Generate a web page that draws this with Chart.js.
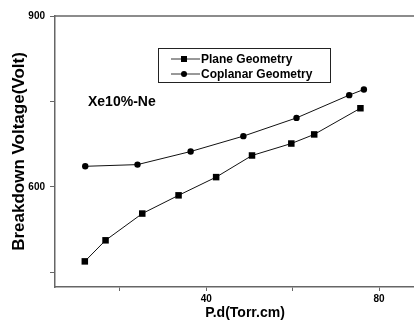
<!DOCTYPE html>
<html>
<head>
<meta charset="utf-8">
<title>Breakdown voltage vs P.d</title>
<script src="https://cdn.jsdelivr.net/npm/chart.js@4.4.0/dist/chart.umd.min.js"></script>
<style>
    html, body { margin: 0; padding: 0; background: #fff; overflow: hidden; }
    #wrap { width: 414px; height: 320px; position: relative; }
    #wrap canvas { display: block; }
</style>
</head>
<body>
<div id="wrap"><canvas id="pdChart"></canvas></div>
<script>
// Data
const planePd = [11.9, 16.7, 25.2, 33.6, 42.3, 50.6, 59.7, 65.0, 75.7];
const planeVolt = [469, 506, 553, 585, 617, 655, 676, 692, 738];
const coplanarPd = [12.0, 24.1, 36.4, 48.6, 60.9, 73.1, 76.5];
const coplanarVolt = [636, 639, 662, 689, 721, 761, 771];

const xTicks = [20, 40, 60, 80];
const xLabels = [40, 80];
const yTicks = [450, 600, 750, 900];
const yLabels = [600, 900];

const seriesNames = ['Plane Geometry', 'Coplanar Geometry'];
const gasLabel = 'Xe10%-Ne';
const xTitle = 'P.d(Torr.cm)';

const FONT = "'Liberation Sans', Arial, sans-serif";
const AXIS_COLOR = '#666';

function toPoints(xs, ys) {
    return xs.map((x, i) => ({ x: x, y: ys[i] }));
}

// Top frame line, legend box, gas label and x title
// (the original frame is cut off on the right, so the x title sits off-centre)
const overlayPlugin = {
    id: 'overlay',
    beforeDatasetsDraw(chart) {
        const ctx = chart.ctx;
        const area = chart.chartArea;
        ctx.save();
        ctx.strokeStyle = AXIS_COLOR;
        ctx.lineWidth = 1.5;
        ctx.beginPath();
        ctx.moveTo(area.left, area.top);
        ctx.lineTo(area.right, area.top);
        ctx.stroke();
        ctx.restore();
    },
    afterDraw(chart) {
        const ctx = chart.ctx;
        ctx.save();

        ctx.fillStyle = '#000';
        ctx.textBaseline = 'middle';
        ctx.textAlign = 'center';
        ctx.font = 'bold 14px ' + FONT;
        ctx.fillText(xTitle, 245, 313);

        // gas mixture label
        ctx.textAlign = 'left';
        ctx.fillText(gasLabel, 88, 102);

        // legend frame
        ctx.strokeStyle = '#222';
        ctx.lineWidth = 1;
        ctx.strokeRect(158.5, 48.5, 172, 34);

        const rows = [59, 74];
        chart.data.datasets.forEach((ds, i) => {
            const y = rows[i];
            ctx.strokeStyle = '#333';
            ctx.lineWidth = 1;
            ctx.beginPath();
            ctx.moveTo(171, y);
            ctx.lineTo(200, y);
            ctx.stroke();
            ctx.fillStyle = '#000';
            if (ds.pointStyle === 'rect') {
                ctx.fillRect(181, y - 3, 6, 6);
            } else {
                ctx.beginPath();
                ctx.arc(184, y, 3, 0, Math.PI * 2);
                ctx.fill();
            }
            ctx.font = 'bold 12px ' + FONT;
            ctx.fillText(ds.label, 201, y + 0.5);
        });
        ctx.restore();
    }
};

const ctx = document.getElementById('pdChart');

new Chart(ctx, {
    type: 'line',
    data: {
        datasets: [
            {
                label: seriesNames[0],
                data: toPoints(planePd, planeVolt),
                borderColor: '#111',
                backgroundColor: '#000',
                borderWidth: 1,
                pointStyle: 'rect',
                pointRadius: 4.6,
                pointBorderWidth: 0,
                tension: 0
            },
            {
                label: seriesNames[1],
                data: toPoints(coplanarPd, coplanarVolt),
                borderColor: '#111',
                backgroundColor: '#000',
                borderWidth: 1,
                pointStyle: 'circle',
                pointRadius: 3.2,
                pointBorderWidth: 0,
                tension: 0
            }
        ]
    },
    options: {
        responsive: true,
        maintainAspectRatio: false,
        animation: false,
        layout: {
            autoPadding: false,
            padding: { left: 0, right: 0, top: 16, bottom: 0 }
        },
        plugins: {
            legend: { display: false },
            tooltip: { enabled: false }
        },
        scales: {
            x: {
                type: 'linear',
                position: 'bottom',
                min: 5,
                max: 88.1,
                afterBuildTicks: (scale) => {
                    scale.ticks = xTicks.map(v => ({ value: v }));
                },
                afterFit: (scale) => { scale.height = 33; },
                ticks: {
                    color: '#000',
                    font: { family: FONT, size: 10, weight: 'bold' },
                    padding: 2,
                    maxRotation: 0,
                    autoSkip: false,
                    callback: (v) => xLabels.includes(v) ? String(v) : ''
                },
                grid: {
                    drawOnChartArea: false,
                    drawTicks: true,
                    tickLength: 4,
                    tickColor: AXIS_COLOR,
                    tickWidth: 1
                },
                border: { display: true, color: AXIS_COLOR, width: 1.5 }
            },
            y: {
                type: 'linear',
                position: 'left',
                min: 424,
                max: 900,
                afterBuildTicks: (scale) => {
                    scale.ticks = yTicks.map(v => ({ value: v }));
                },
                afterFit: (scale) => { scale.width = 55; },
                ticks: {
                    color: '#000',
                    font: { family: FONT, size: 10, weight: 'bold' },
                    padding: 5,
                    autoSkip: false,
                    callback: (v) => yLabels.includes(v) ? String(v) : ''
                },
                grid: {
                    drawOnChartArea: false,
                    drawTicks: true,
                    tickLength: 5,
                    tickColor: AXIS_COLOR,
                    tickWidth: 1
                },
                border: { display: true, color: AXIS_COLOR, width: 1.5 },
                title: {
                    display: true,
                    text: 'Breakdown Voltage(Volt)',
                    color: '#000',
                    font: { family: FONT, size: 17, weight: 'bold', lineHeight: 1.2 },
                    padding: { top: 9, bottom: 0 }
                }
            }
        }
    },
    plugins: [overlayPlugin]
});
</script>
</body>
</html>
